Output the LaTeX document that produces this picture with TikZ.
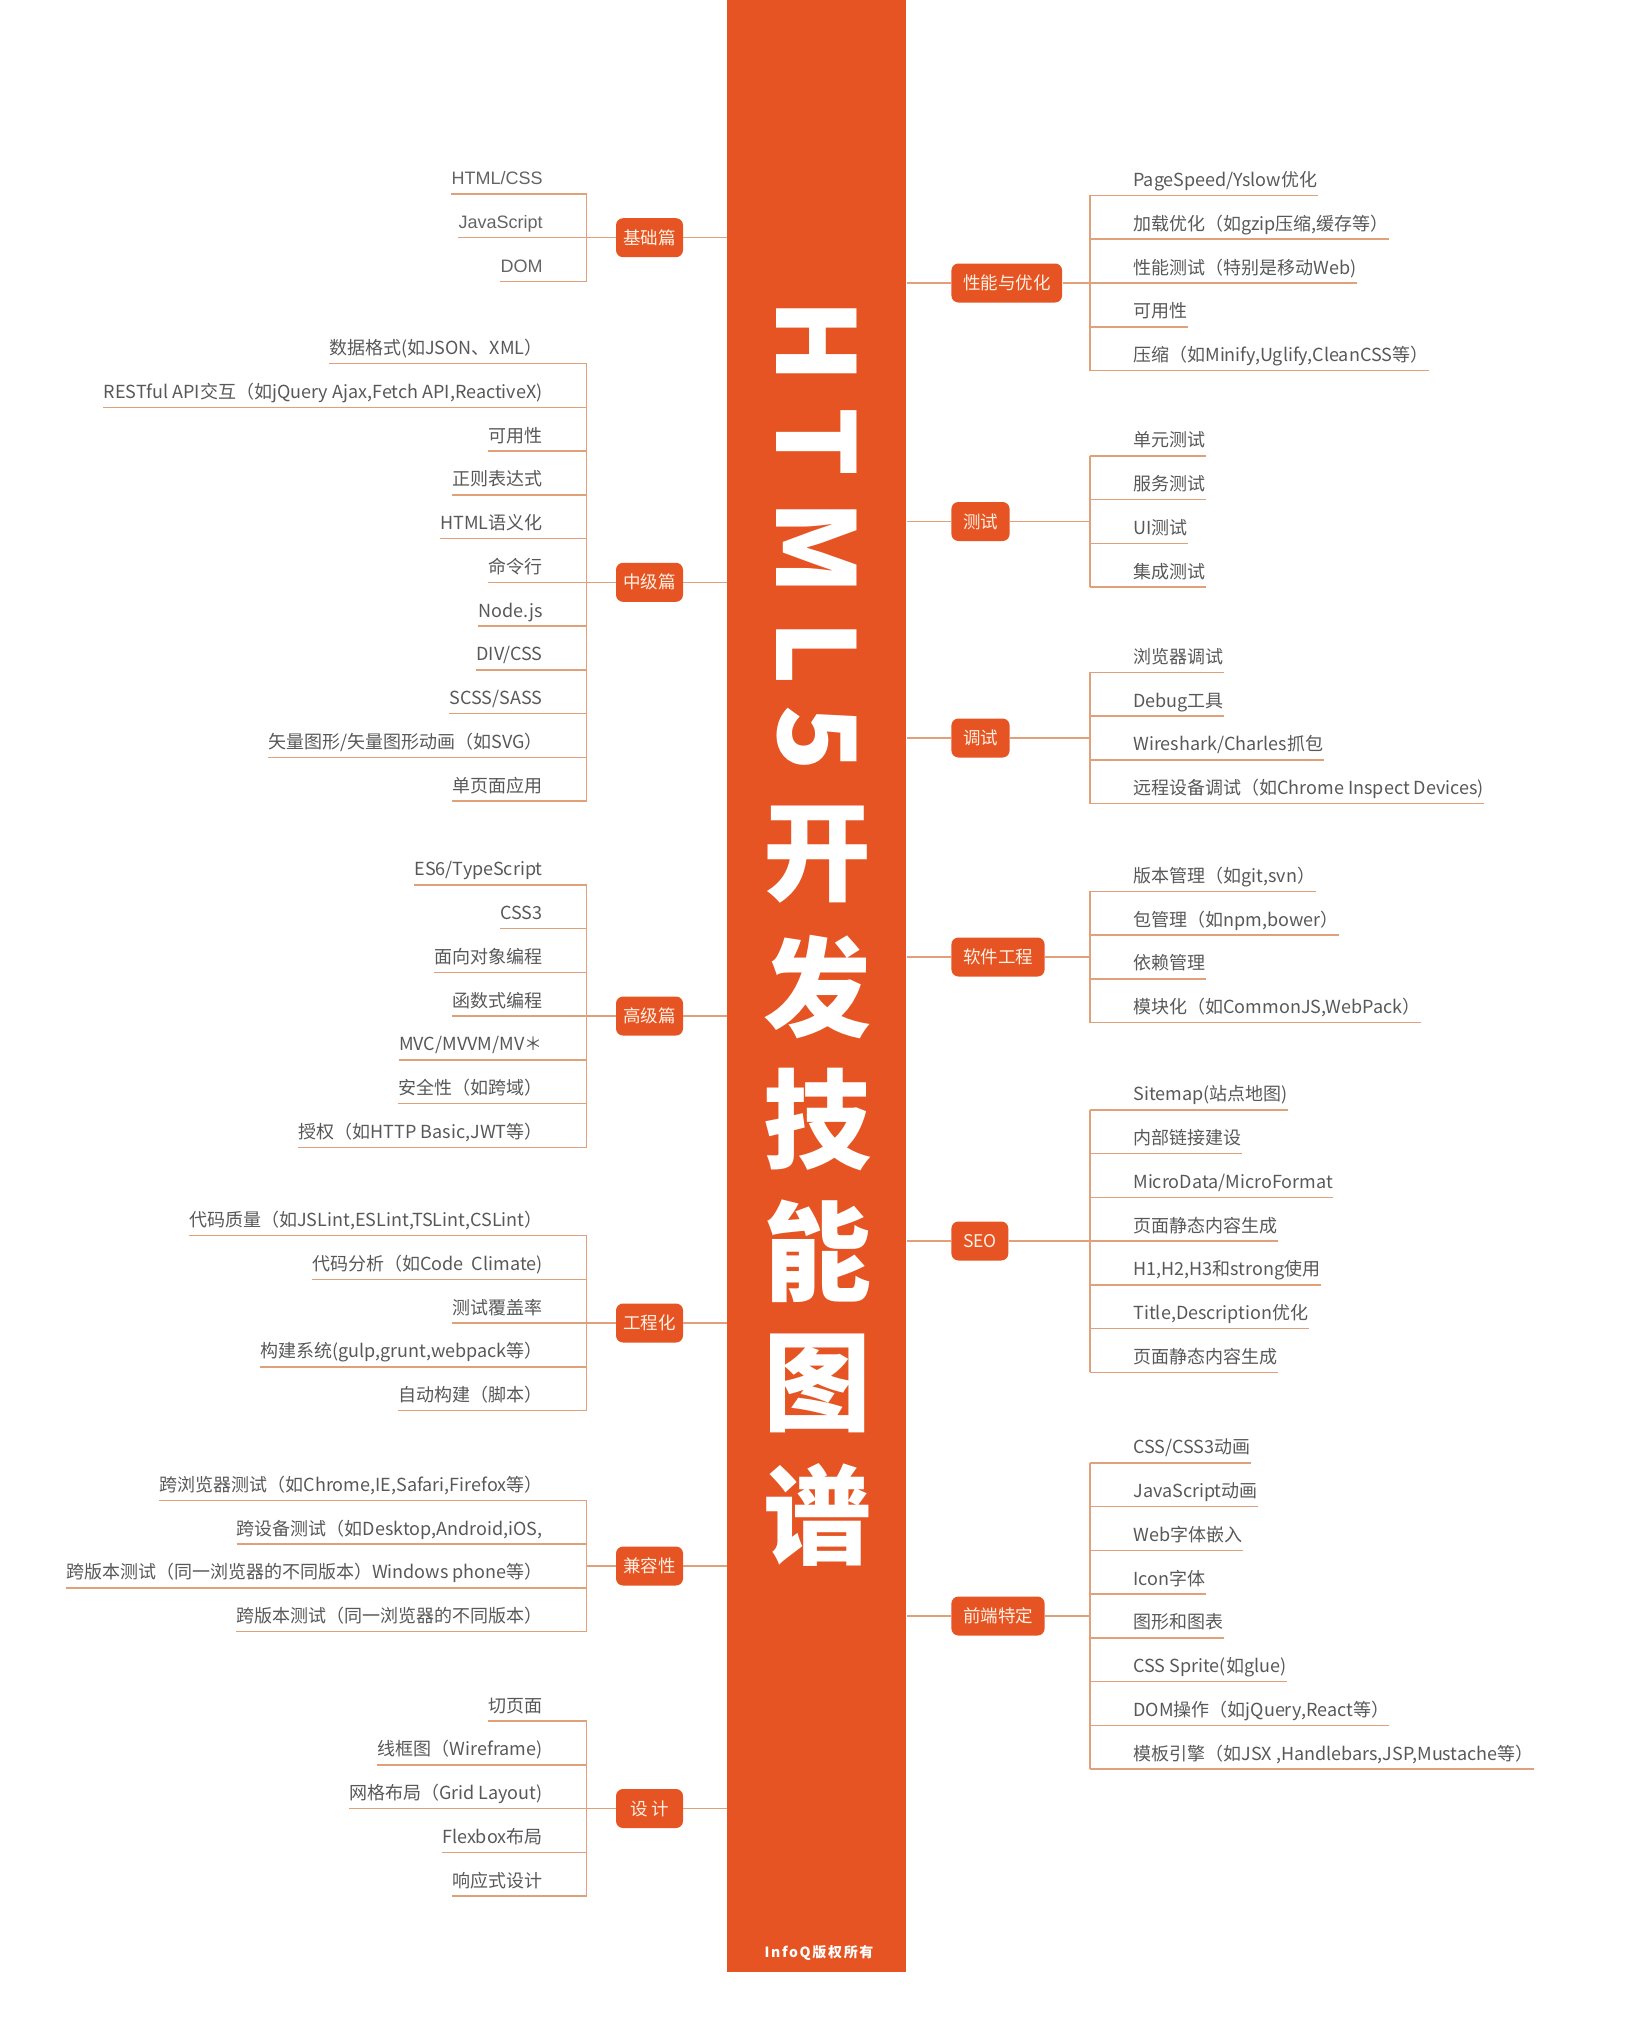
\documentclass[tikz,border=0pt]{standalone}
\usepackage{fontspec}
\setmainfont{Noto Sans CJK SC}
\newfontfamily\arialf{Liberation Sans}
\definecolor{barorange}{RGB}{229,84,34}
\definecolor{linec}{RGB}{224,160,122}
\definecolor{txtc}{RGB}{88,88,88}
\definecolor{txtl}{RGB}{100,100,100}
\definecolor{boxtxt}{RGB}{255,240,228}
\tikzset{
  conn/.style={draw=linec, line width=0.75pt},
  catbase/.style={fill=barorange, rounded corners=3.5pt, text=boxtxt,
    font=\fontsize{8.75pt}{10pt}\selectfont, minimum height=19.5pt, inner ysep=0pt},
  catL/.style={catbase, minimum width=33.5pt, inner xsep=0pt},
  catR/.style={catbase, inner xsep=5.8pt, anchor=west},
  leafbase/.style={inner sep=0pt, text=txtc, font=\fontsize{9pt}{10pt}\selectfont},
  leafL/.style={leafbase, anchor=base east},
  leafR/.style={leafbase, anchor=base west},
  arialleaf/.style={text=txtl, font=\fontsize{9pt}{10pt}\arialf},
  titlech/.style={text=white, font=\fontsize{54pt}{54pt}\selectfont\bfseries, inner sep=0pt},
}
\newcommand\LGroup[6]{%
  \node[catL] (#1) at (649.5,#2) {#3};
  \draw[conn] (#1.east) -- (#1.east -| bar.west);
  \coordinate (#1-j) at (586.5,#2);
  \draw[conn] (#1.west) -- (#1-j);
  \foreach \t [count=\i] in {#6} {%
    \pgfmathsetmacro\uy{#2+(\i-1-(#4-1)/2)*43.75}
    \node[leafL,#5] (#1-\i) at (543,\uy-9) {\t};
    \coordinate (#1-u\i) at (586.5,\uy);
    \draw[conn] (#1-\i.base west |- #1-u\i) -- (#1-u\i);
  }
  \draw[conn] (#1-u1) -- (#1-u#4);
}
\newcommand\RGroup[6]{%
  \node[catR] (#1) at (951,#2) {#3};
  \draw[conn] (#1.west) -- (#1.west -| bar.east);
  \coordinate (#1-j) at (1090,#2);
  \draw[conn] (#1.east) -- (#1-j);
  \foreach \t [count=\i] in {#6} {%
    \pgfmathsetmacro\uy{#2+(\i-1-(#4-1)/2)*43.75}
    \node[leafR,#5] (#1-\i) at (1133,\uy-9) {\t};
    \coordinate (#1-u\i) at (1090,\uy);
    \draw[conn] (#1-u\i) -- (#1-\i.base east |- #1-u\i);
  }
  \draw[conn] (#1-u1) -- (#1-u#4);
}
\begin{document}
\begin{tikzpicture}[x=0.5pt,y=-0.5pt]
\useasboundingbox (0,0) rectangle (1634,2033);
\node[fill=barorange, minimum width=89.5pt, minimum height=986pt, inner sep=0pt, anchor=north west] (bar) at (727,0) {};
% title
\foreach \ch/\yy [count=\k] in {H/341,T/442,M/548,L/653,5/738}
  \node[titlech, rotate=-90] (tl\k) at (817,\yy) {\ch};
\foreach \ch/\yy [count=\k] in {开/855,发/987,技/1119,能/1251,图/1383,谱/1515}
  \node[titlech] (tc\k) at (817,\yy) {\ch};
\node[text=white, font=\fontsize{7pt}{8pt}\selectfont\bfseries\addfontfeature{LetterSpace=12}, inner sep=0pt] (copy) at (819,1953) {InfoQ版权所有};
% left groups
\LGroup{ga}{237.7}{基础篇}{3}{arialleaf}{{HTML/CSS},{JavaScript},{DOM}}
\LGroup{gb}{582.3}{中级篇}{11}{}{{数据格式(如JSON、XML）},{RESTful API交互（如jQuery Ajax,Fetch API,ReactiveX)},{可用性},{正则表达式},{HTML语义化},{命令行},{Node.js},{DIV/CSS},{SCSS/SASS},{矢量图形/矢量图形动画（如SVG）},{单页面应用}}
\LGroup{gc}{1016}{高级篇}{7}{}{{ES6/TypeScript},{CSS3},{面向对象编程},{函数式编程},{MVC/MVVM/MV＊},{安全性（如跨域）},{授权（如HTTP Basic,JWT等）}}
\LGroup{gd}{1323}{工程化}{5}{}{{代码质量（如JSLint,ESLint,TSLint,CSLint）},{代码分析（如Code\ \ Climate)},{测试覆盖率},{构建系统(gulp,grunt,webpack等）},{自动构建（脚本）}}
\LGroup{ge}{1566}{兼容性}{4}{}{{跨浏览器测试（如Chrome,IE,Safari,Firefox等）},{跨设备测试（如Desktop,Android,iOS,},{跨版本测试（同一浏览器的不同版本）Windows phone等）},{跨版本测试（同一浏览器的不同版本）}}
\LGroup{gf}{1808.5}{设\ 计}{5}{}{{切页面},{线框图（Wireframe)},{网格布局（Grid Layout)},{Flexbox布局},{响应式设计}}
% right groups
\RGroup{ra}{283}{性能与优化}{5}{}{{PageSpeed/Yslow优化},{加载优化（如gzip压缩,缓存等）},{性能测试（特别是移动Web)},{可用性},{压缩（如Minify,Uglify,CleanCSS等）}}
\RGroup{rb}{521.5}{测试}{4}{}{{单元测试},{服务测试},{UI测试},{集成测试}}
\RGroup{rc}{738}{调试}{4}{}{{浏览器调试},{Debug工具},{Wireshark/Charles抓包},{远程设备调试（如Chrome Inspect Devices)}}
\RGroup{rd}{957}{软件工程}{4}{}{{版本管理（如git,svn）},{包管理（如npm,bower）},{依赖管理},{模块化（如CommonJS,WebPack）}}
\RGroup{re}{1241}{SEO}{7}{}{{Sitemap(站点地图)},{内部链接建设},{MicroData/MicroFormat},{页面静态内容生成},{H1,H2,H3和strong使用},{Title,Description优化},{页面静态内容生成}}
\RGroup{rf}{1616}{前端特定}{8}{}{{CSS/CSS3动画},{JavaScript动画},{Web字体嵌入},{Icon字体},{图形和图表},{CSS Sprite(如glue)},{DOM操作（如jQuery,React等）},{模板引擎（如JSX ,Handlebars,JSP,Mustache等）}}
\end{tikzpicture}
\end{document}
